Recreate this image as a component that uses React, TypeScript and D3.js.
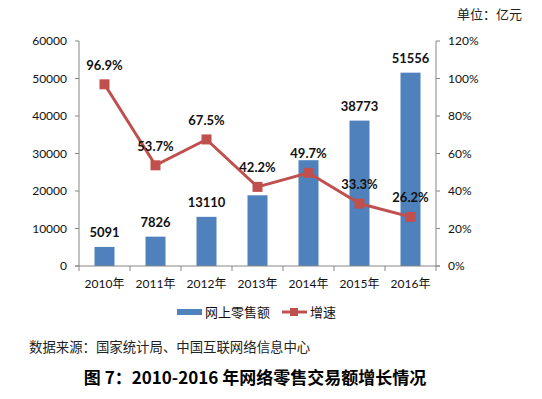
import * as d3 from "d3";

const years = ["2010年", "2011年", "2012年", "2013年", "2014年", "2015年", "2016年"];
const sales = [5091, 7826, 13110, 18851, 28211, 38773, 51556];
const showSalesLabel = [true, true, true, false, false, true, true];
const growth = [96.9, 53.7, 67.5, 42.2, 49.7, 33.3, 26.2];
const leftTicks = [0, 10000, 20000, 30000, 40000, 50000, 60000];
const rightTicks = [0, 20, 40, 60, 80, 100, 120];

const W = 542;
const H = 399;
const plot = { left: 79, right: 436, top: 41, bottom: 266 };
const blue = "#4F81BD";
const red = "#C0504D";
const axisColor = "#868686";
const latin = "Lato, 'Noto Sans CJK SC', sans-serif";
const cjk = "'Noto Sans CJK SC', sans-serif";

function App() {
    const x = d3.scaleBand().domain(years).range([plot.left, plot.right]);
    const yL = d3.scaleLinear().domain([0, 60000]).range([plot.bottom, plot.top]);
    const yR = d3.scaleLinear().domain([0, 120]).range([plot.bottom, plot.top]);
    const barW = 20;
    const cx = (d: string) => x(d)! + x.bandwidth() / 2;

    const line = d3.line<number>()
        .x((_, i) => cx(years[i]))
        .y((d) => yR(d));

    return (
        <svg width={W} height={H} style={{ position: "absolute", left: 0, top: 0, background: "#ffffff" }}>
            <text x={522} y={19} textAnchor="end" fontSize={13} fontFamily={cjk} fill="#222">单位：亿元</text>

            {/* bars */}
            {sales.map((v, i) => (
                <rect key={years[i]} x={cx(years[i]) - barW / 2} y={yL(v)} width={barW} height={plot.bottom - yL(v)} fill={blue} />
            ))}

            {/* axes */}
            <line x1={plot.left} y1={plot.top} x2={plot.left} y2={plot.bottom} stroke={axisColor} />
            <line x1={plot.right} y1={plot.top} x2={plot.right} y2={plot.bottom} stroke={axisColor} />
            <line x1={plot.left - 4} y1={plot.bottom} x2={plot.right + 4} y2={plot.bottom} stroke={axisColor} />
            {leftTicks.map((t) => (
                <g key={t}>
                    <line x1={plot.left - 4} x2={plot.left} y1={yL(t)} y2={yL(t)} stroke={axisColor} />
                    <text x={67} y={yL(t)} dy="0.35em" textAnchor="end" fontSize={12} fontFamily={latin} fill="#111">{t}</text>
                </g>
            ))}
            {rightTicks.map((t) => (
                <g key={t}>
                    <line x1={plot.right} x2={plot.right + 4} y1={yR(t)} y2={yR(t)} stroke={axisColor} />
                    <text x={448} y={yR(t)} dy="0.35em" textAnchor="start" fontSize={12} fontFamily={latin} fill="#111">{t}%</text>
                </g>
            ))}
            {years.map((d) => (
                <line key={d} x1={x(d)!} x2={x(d)!} y1={plot.bottom} y2={plot.bottom + 5} stroke={axisColor} />
            ))}
            <line x1={plot.right} x2={plot.right} y1={plot.bottom} y2={plot.bottom + 5} stroke={axisColor} />
            {years.map((d) => (
                <text key={d} x={cx(d)} y={284} dy="0.35em" textAnchor="middle" fontSize={12} fontFamily={latin} fill="#111">{d}</text>
            ))}

            {/* growth line */}
            <path d={line(growth)!} fill="none" stroke={red} strokeWidth={3} />
            {growth.map((g, i) => (
                <rect key={years[i]} x={cx(years[i]) - 5} y={yR(g) - 5} width={10} height={10} fill={red} />
            ))}

            {/* data labels */}
            {sales.map((v, i) => showSalesLabel[i] && (
                <text key={years[i]} x={cx(years[i])} y={yL(v) - 14} dy="0.35em" textAnchor="middle" fontSize={13} fontWeight="bold" fontFamily={latin} fill="#111">{v}</text>
            ))}
            {growth.map((g, i) => (
                <text key={years[i]} x={cx(years[i])} y={yR(g) - 19} dy="0.35em" textAnchor="middle" fontSize={13} fontWeight="bold" fontFamily={latin} fill="#111">{g.toFixed(1)}%</text>
            ))}

            {/* legend */}
            <rect x={177} y={309} width={25} height={6} fill={blue} />
            <text x={205} y={312} dy="0.35em" fontSize={13} fontFamily={cjk} fill="#111">网上零售额</text>
            <line x1={282} x2={307} y1={312} y2={312} stroke={red} strokeWidth={3} />
            <rect x={290} y={308} width={8} height={8} fill={red} />
            <text x={310} y={312} dy="0.35em" fontSize={13} fontFamily={cjk} fill="#111">增速</text>

            <text x={29} y={347} dy="0.35em" fontSize={13.4} fontFamily={cjk} fill="#222">数据来源：国家统计局、中国互联网络信息中心</text>
            <text x={255} y={378} dy="0.35em" textAnchor="middle" fontSize={17} fontWeight="bold" fontFamily={cjk} fill="#000">图 7：2010-2016 年网络零售交易额增长情况</text>
        </svg>
    );
}

export default App;
